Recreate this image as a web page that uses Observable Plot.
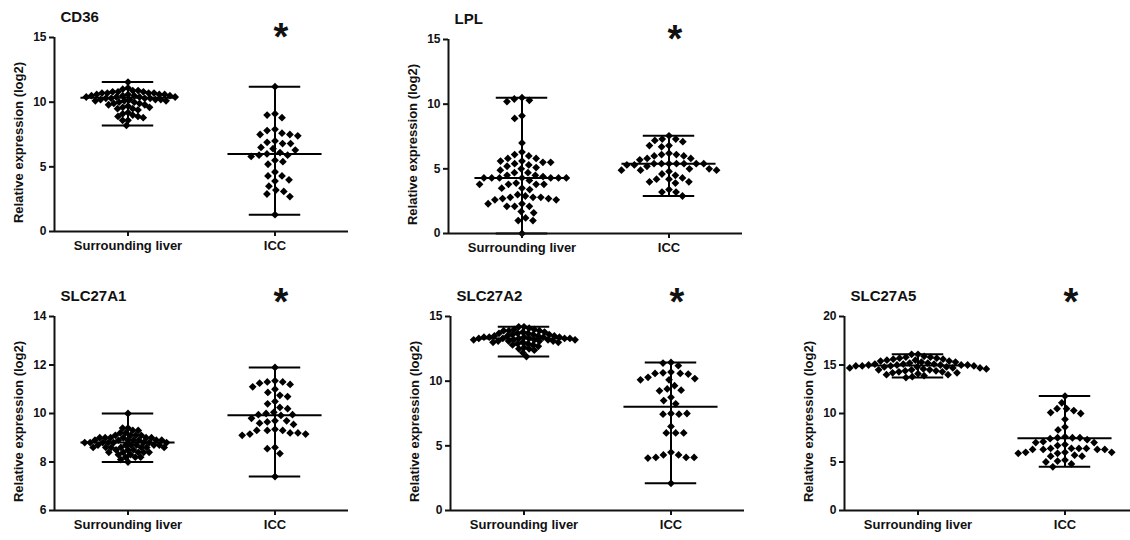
<!DOCTYPE html>
<html>
<head>
<meta charset="utf-8">
<script src="https://cdn.jsdelivr.net/npm/d3@7"></script>
<script src="https://cdn.jsdelivr.net/npm/@observablehq/plot@0.6"></script>
<style>
  html, body { margin: 0; padding: 0; background: #fff; }
  body { width: 1130px; height: 540px; overflow: hidden; font-family: "Liberation Sans", Arial, sans-serif; }
  #wrap { position: relative; width: 1130px; height: 540px; overflow: hidden; }
  .panel { position: absolute; width: 370px; height: 261px; }
  .panel svg { max-width: none !important; }
</style>
</head>
<body>
<div id="wrap"></div>
<script>
// ---------- data ----------
const groups = ["Surrounding liver", "ICC"];
const genes = ["CD36", "LPL", "SLC27A1", "SLC27A2", "SLC27A5"];
const yLabel = "Relative expression (log2)";
const stars = ["*", "*", "*", "*", "*"];

const yMin = [0, 0, 6, 0, 0];
const yMax = [15, 15, 14, 15, 20];
const yTicks = [[0, 5, 10, 15], [0, 5, 10, 15], [6, 8, 10, 12, 14], [0, 5, 10, 15], [0, 5, 10, 15, 20]];

const cd36Liver = [11.55, 11.1, 11.0, 10.9, 10.9, 10.8, 10.8, 10.8, 10.7, 10.7, 10.7, 10.7, 10.6, 10.6, 10.6, 10.6,
  10.5, 10.5, 10.5, 10.5, 10.4, 10.4, 10.4, 10.4, 10.3, 10.3, 10.3, 10.3, 10.2, 10.2, 10.2, 10.2, 10.1, 10.1, 10.1,
  10.0, 10.0, 9.9, 9.9, 9.8, 9.8, 9.7, 9.6, 9.6, 9.5, 9.5, 9.4, 9.2, 9.1, 9.0, 8.9, 8.9, 8.8, 8.6, 8.6, 8.2];
const cd36ICC = [11.2, 9.1, 9.0, 8.8, 7.9, 7.8, 7.6, 7.5, 7.5, 7.4, 7.0, 6.9, 6.8, 6.8, 6.5, 6.4, 6.3, 6.1, 6.0,
  5.9, 5.9, 5.8, 5.5, 5.4, 5.2, 4.6, 4.3, 4.3, 4.0, 3.9, 3.5, 3.2, 3.1, 2.9, 2.7, 1.3];

const lplLiver = [10.5, 10.4, 10.3, 10.2, 9.1, 8.9, 7.0, 6.3, 6.1, 6.0, 5.8, 5.8, 5.6, 5.6, 5.5, 5.5, 5.4, 5.3, 5.2,
  5.1, 5.0, 4.9, 4.7, 4.7, 4.5, 4.5, 4.4, 4.3, 4.3, 4.3, 4.3, 4.3, 4.3, 4.3, 4.1, 3.9, 3.8, 3.8, 3.8, 3.8, 3.5, 3.5,
  3.4, 3.0, 2.9, 2.8, 2.8, 2.8, 2.7, 2.7, 2.6, 2.6, 2.3, 2.3, 2.1, 2.1, 2.1, 1.7, 1.6, 1.2, 1.0, 1.0, 0.0];
const lplICC = [7.55, 7.3, 7.3, 7.2, 7.1, 6.8, 6.8, 6.7, 6.2, 6.1, 6.1, 6.0, 6.0, 5.8, 5.8, 5.7, 5.4, 5.4, 5.4, 5.4,
  5.4, 5.4, 5.4, 5.3, 5.3, 5.2, 5.0, 5.0, 4.9, 4.9, 4.9, 4.8, 4.6, 4.5, 4.3, 4.2, 4.2, 4.0, 4.0, 3.9, 3.4, 3.2, 3.2, 2.9];

const slc27a1Liver = [10.0, 9.4, 9.4, 9.3, 9.3, 9.2, 9.2, 9.1, 9.1, 9.1, 9.1, 9.0, 9.0, 9.0, 9.0, 9.0, 9.0, 8.9, 8.9,
  8.9, 8.9, 8.9, 8.9, 8.9, 8.8, 8.8, 8.8, 8.8, 8.8, 8.8, 8.8, 8.8, 8.7, 8.7, 8.7, 8.7, 8.7, 8.7, 8.6, 8.6, 8.6, 8.6,
  8.6, 8.6, 8.6, 8.5, 8.5, 8.5, 8.4, 8.4, 8.4, 8.4, 8.4, 8.3, 8.3, 8.2, 8.2, 8.2, 8.1, 8.0];
const slc27a1ICC = [11.9, 11.35, 11.3, 11.3, 11.25, 11.2, 11.1, 11.0, 10.87, 10.75, 10.7, 10.5, 10.4, 10.25, 10.2,
  10.05, 10.0, 9.95, 9.95, 9.92, 9.8, 9.7, 9.7, 9.65, 9.6, 9.55, 9.35, 9.3, 9.3, 9.3, 9.2, 9.2, 9.15, 9.15, 9.1, 8.6,
  8.55, 8.35, 7.4];

const slc27a2Liver = [14.2, 14.2, 14.1, 14.0, 14.0, 13.9, 13.9, 13.9, 13.8, 13.8, 13.7, 13.7, 13.7, 13.6, 13.6, 13.6,
  13.5, 13.5, 13.5, 13.5, 13.4, 13.4, 13.4, 13.4, 13.4, 13.3, 13.3, 13.3, 13.3, 13.3, 13.3, 13.2, 13.2, 13.2, 13.2,
  13.2, 13.1, 13.1, 13.1, 13.1, 13.0, 13.0, 13.0, 12.9, 12.9, 12.8, 12.8, 12.7, 12.6, 12.5, 12.5, 12.4, 12.2, 11.9];
const slc27a2ICC = [11.45, 11.4, 11.2, 10.7, 10.65, 10.6, 10.6, 10.55, 10.3, 10.2, 10.1, 10.1, 9.65, 9.4, 9.3, 9.25,
  8.75, 8.5, 8.25, 7.5, 7.45, 7.45, 7.5, 6.5, 6.0, 6.0, 6.0, 4.5, 4.3, 4.3, 4.1, 4.1, 4.05, 4.1, 2.1];

const slc27a5Liver = [16.1, 16.1, 15.9, 15.8, 15.8, 15.7, 15.7, 15.6, 15.6, 15.5, 15.5, 15.4, 15.4, 15.3, 15.3, 15.2,
  15.2, 15.1, 15.1, 15.1, 15.0, 15.0, 15.0, 15.0, 15.0, 14.9, 14.9, 14.9, 14.9, 14.8, 14.8, 14.8, 14.7, 14.7, 14.7,
  14.6, 14.6, 14.5, 14.5, 14.5, 14.4, 14.4, 14.3, 14.3, 14.2, 14.2, 14.1, 14.0, 14.0, 13.9, 13.8, 13.7];
const slc27a5ICC = [11.8, 11.1, 10.5, 10.5, 10.3, 10.1, 10.0, 9.4, 8.6, 8.3, 7.6, 7.5, 7.5, 7.5, 7.4, 7.3, 7.1, 7.0,
  7.0, 6.8, 6.7, 6.4, 6.4, 6.4, 6.4, 6.3, 6.3, 6.3, 6.3, 6.0, 6.0, 6.0, 5.9, 5.9, 5.7, 5.6, 5.6, 5.2, 5.1, 5.0, 4.8, 4.5];

// medians as drawn in the figure
const medianLiver = [10.35, 4.3, 8.8, 13.3, 14.95];
const medianICC = [6.0, 5.4, 9.93, 8.03, 7.45];

const liverSets = [cd36Liver, lplLiver, slc27a1Liver, slc27a2Liver, slc27a5Liver];
const iccSets = [cd36ICC, lplICC, slc27a1ICC, slc27a2ICC, slc27a5ICC];

// ---------- layout (style only) ----------
const panelLeft = [0, 394, 0, 396, 790];
const panelTop = [0, 2, 279, 279, 279];
const starDy = [0, 0, -14, -14, -14];
const liverPad = [-1.6, 0.8, -1.6, -1.7, -0.6];
const iccPad = [1, 0.5, 0.8, 1, 0.5];

const wrap = document.getElementById("wrap");

genes.forEach((gene, i) => {
  const liverRows = liverSets[i].map(v => ({group: groups[0], value: v}));
  const iccRows = iccSets[i].map(v => ({group: groups[1], value: v}));
  const stats = groups.map((g, k) => {
    const vals = k ? iccSets[i] : liverSets[i];
    return {group: g, median: (k ? medianICC : medianLiver)[i], min: d3.min(vals), max: d3.max(vals)};
  });
  const y0 = yMin[i], y1 = yMax[i];
  const dotStyle = {fx: "group", y: "value", r: 3.5, symbol: "diamond2", fill: "#000", stroke: "none"};
  const chart = Plot.plot({
    width: 370, height: 261,
    marginLeft: 53, marginRight: 22, marginTop: 37, marginBottom: 30,
    style: {fontFamily: "'Liberation Sans', Arial, sans-serif", fontWeight: "bold", color: "#111", background: "transparent", overflow: "visible", maxWidth: "none"},
    fx: {domain: groups, padding: 0, axis: null, label: null},
    x: {domain: [-1, 1], axis: null},
    y: {domain: [y0, y1], axis: null},
    marks: [
      Plot.dot(liverRows, Plot.dodgeX({anchor: "middle", padding: liverPad[i]}, dotStyle)),
      Plot.dot(iccRows, Plot.dodgeX({anchor: "middle", padding: iccPad[i]}, dotStyle)),
      Plot.ruleX(stats, {fx: "group", x: 0, y1: "min", y2: "max", stroke: "#000", strokeWidth: 2}),
      Plot.ruleY(stats, {fx: "group", y: "median", x1: -0.64, x2: 0.64, stroke: "#000", strokeWidth: 2}),
      Plot.ruleY(stats, {fx: "group", y: "min", x1: -0.35, x2: 0.35, stroke: "#000", strokeWidth: 2}),
      Plot.ruleY(stats, {fx: "group", y: "max", x1: -0.35, x2: 0.35, stroke: "#000", strokeWidth: 2}),
      Plot.ruleY([y0], {stroke: "#111", strokeWidth: 2}),
      Plot.ruleX([groups[0]], {fx: d => d, x: -1, y1: y0, y2: y1, stroke: "#111", strokeWidth: 2}),
      Plot.axisY({ticks: yTicks[i], tickSize: 5, tickPadding: 3, fontSize: 12, label: null, strokeWidth: 2}),
      Plot.axisFx({anchor: "bottom", tickSize: 5, tickPadding: 4, fontSize: 13, label: null, strokeWidth: 2}),
      Plot.text([yLabel], {fx: [groups[0]], text: d => d, frameAnchor: "left", textAnchor: "middle", lineAnchor: "middle", rotate: -90, dx: -36, dy: 8, fontSize: 13, fill: "#111"}),
      Plot.text([gene], {fx: [groups[0]], text: d => d, frameAnchor: "top-left", textAnchor: "start", lineAnchor: "middle", dx: 6, dy: -20, fontSize: 15, fill: "#111"}),
      Plot.text([stars[i]], {fx: [groups[1]], text: d => d, frameAnchor: "top", textAnchor: "middle", lineAnchor: "middle", dx: 6, dy: starDy[i], fontSize: 38, fill: "#111"})
    ]
  });
  const div = document.createElement("div");
  div.className = "panel";
  div.style.left = panelLeft[i] + "px";
  div.style.top = panelTop[i] + "px";
  div.appendChild(chart);
  wrap.appendChild(div);
});
</script>
</body>
</html>
